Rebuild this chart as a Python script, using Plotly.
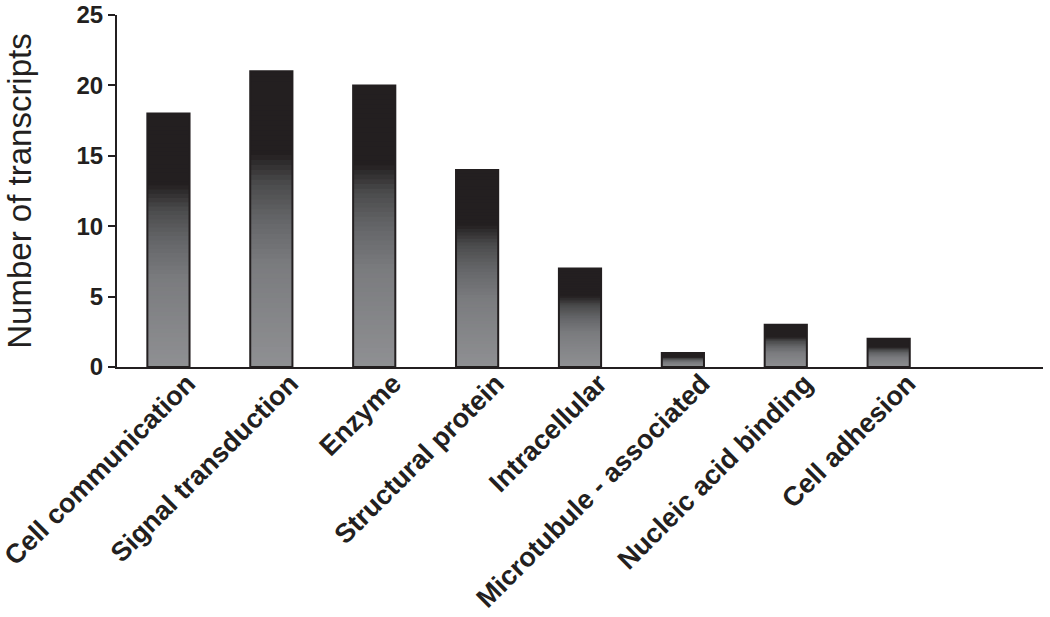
import plotly.graph_objects as go
from plotly.colors import sample_colorscale

categories = ["Cell communication", "Signal transduction", "Enzyme", "Structural protein",
              "Intracellular", "Microtubule - associated", "Nucleic acid binding", "Cell adhesion"]
values = [18, 21, 20, 14, 7, 1, 3, 2]
y_ticks = [0, 5, 10, 15, 20, 25]

# vertical gradient of each bar (fraction of bar height -> colour)
gradient = [[0.0, "#8f9093"], [0.35, "#7a7b7e"], [0.5, "#646568"], [0.62, "#4b4b4c"],
            [0.68, "#333132"], [0.72, "#231f20"], [1.0, "#231f20"]]
N = 60

fig = go.Figure()
x_idx = list(range(len(categories)))
for i in range(N):
    f = (i + 0.5) / N
    col = sample_colorscale(gradient, [f])[0]
    fig.add_trace(go.Bar(
        x=x_idx,
        base=[v * i / N for v in values],
        y=[v * (min(i + 1.6, N) - i) / N for v in values],
        width=0.41,
        marker=dict(color=col, line=dict(width=0)),
        hoverinfo="skip", showlegend=False))

fig.add_trace(go.Bar(
    x=x_idx, y=values, width=0.41,
    marker=dict(color="rgba(0,0,0,0)", line=dict(color="#231f20", width=2)),
    showlegend=False, hovertemplate="%{y}<extra></extra>"))

fig.update_layout(
    barmode="overlay",
    width=1050, height=617,
    margin=dict(l=117, r=7, t=15, b=250),
    paper_bgcolor="white", plot_bgcolor="white",
    font=dict(family="Liberation Sans, Arial, sans-serif", color="#231f20"),
)
fig.update_xaxes(
    range=[-0.5, 8.5], automargin=False,
    tickmode="array", tickvals=x_idx, ticktext=categories,
    tickangle=-45, ticks="", ticklabeloverflow="allow",
    ticklabelshift=19, ticklabelstandoff=-12,
    tickfont=dict(size=27, weight="bold", family="Liberation Sans, Arial, sans-serif"),
    showline=True, linecolor="#231f20", linewidth=2,
    showgrid=False, zeroline=False,
)
fig.update_yaxes(
    range=[0, 25], automargin=False, ticklabeloverflow="allow",
    tickmode="array", tickvals=y_ticks,
    ticks="outside", ticklen=7, tickwidth=2, tickcolor="#231f20",
    tickfont=dict(size=24, weight="bold", family="Liberation Sans, Arial, sans-serif"),
    showline=True, linecolor="#231f20", linewidth=2,
    showgrid=False, zeroline=False,
    title=dict(text="Number of transcripts", font=dict(size=33), standoff=35),
)

fig.write_html("out.html", config={"displayModeBar": False},
               post_script="document.body.style.margin='0';")
